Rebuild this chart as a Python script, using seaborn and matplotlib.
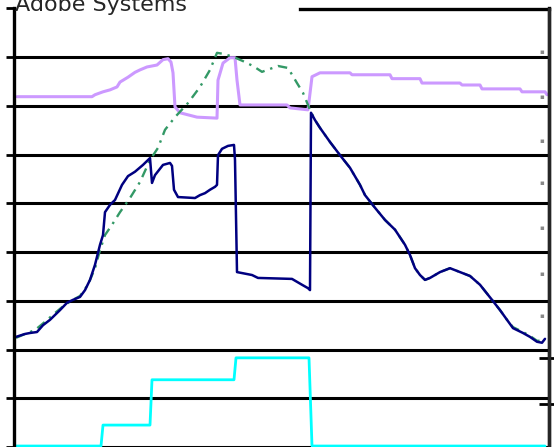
import matplotlib
matplotlib.use('Agg')
import matplotlib.pyplot as plt
import seaborn as sns
import pandas as pd

# values (x = trading day, y = price scale 0-90)
lav_x = [3, 78, 81, 89, 96, 103, 106, 114, 121, 126, 133, 143, 149, 154, 157, 159, 161, 166, 183, 203,
         204, 209, 216, 221, 223, 226, 273, 276, 294, 298, 306, 336, 338, 376, 378, 406, 408, 446, 448,
         466, 468, 506, 508, 531, 533]
lav_y = [71.9, 71.9, 72.3, 72.9, 73.3, 73.9, 74.9, 75.9, 76.9, 77.4, 78.0, 78.4, 79.5, 79.7, 79.0, 76.8,
         69.8, 68.6, 67.7, 67.5, 75.3, 78.8, 79.9, 79.9, 75.3, 70.2, 70.2, 69.6, 69.2, 76.0, 76.8, 76.8,
         76.4, 76.4, 75.6, 75.6, 74.7, 74.7, 74.3, 74.3, 73.5, 73.5, 72.9, 72.9, 72.3]

navy_x = [2, 11, 16, 23, 29, 36, 46, 53, 59, 66, 71, 76, 81, 86, 89, 91, 96, 101, 108, 114, 121, 129,
          136, 138, 141, 149, 156, 158, 160, 164, 181, 186, 191, 196, 201, 203, 204, 208, 214, 220, 221,
          223, 233, 238, 244, 278, 283, 288, 294, 296, 297, 301, 306, 316, 326, 336, 346, 351, 361, 371,
          381, 391, 396, 401, 406, 411, 416, 426, 436, 446, 456, 466, 478, 486, 493, 499, 509, 516, 523,
          528, 531]
navy_y = [22.6, 23.2, 23.4, 23.6, 25.0, 26.1, 28.1, 29.6, 30.2, 30.8, 32.2, 34.3, 37.4, 41.5, 43.5, 48.2,
          49.7, 50.7, 53.8, 55.6, 56.5, 57.9, 59.3, 54.2, 55.8, 57.9, 58.3, 57.7, 52.8, 51.3, 51.1, 51.7,
          52.1, 52.8, 53.4, 53.8, 59.9, 61.2, 61.8, 62.0, 58.9, 35.9, 35.5, 35.3, 34.7, 34.5, 33.9, 33.3,
          32.6, 32.2, 68.6, 67.1, 65.5, 62.6, 59.9, 57.3, 53.8, 51.7, 49.1, 46.6, 44.6, 41.5, 39.4, 36.7,
          35.3, 34.3, 34.7, 35.9, 36.7, 35.9, 35.1, 33.3, 30.2, 28.1, 26.1, 24.4, 23.4, 22.6, 21.6, 21.4,
          22.2]

green_x = [2, 11, 21, 31, 41, 51, 59, 66, 74, 81, 86, 91, 98, 106, 116, 126, 136, 144, 151, 161, 174,
           186, 196, 203, 209, 219, 229, 239, 248, 256, 264, 274, 283, 289, 296, 301, 306, 316, 326, 336,
           346, 351, 361, 371, 381, 391, 396, 401, 406, 411, 416, 426, 436, 446, 456, 466, 478, 486, 493,
           499, 509, 516, 523, 531]
green_y = [22.4, 23.2, 24.0, 25.7, 27.5, 29.2, 30.2, 31.0, 33.3, 36.7, 40.4, 43.5, 45.6, 48.2, 51.1,
           54.4, 58.9, 61.4, 65.1, 67.7, 70.6, 73.9, 77.4, 80.9, 80.7, 80.1, 79.2, 78.2, 77.0, 77.6, 78.2,
           77.8, 74.7, 72.7, 69.2, 67.1, 65.5, 62.6, 59.9, 57.3, 53.8, 51.7, 49.1, 46.6, 44.6, 41.5, 39.4,
           36.7, 35.3, 34.3, 34.7, 35.9, 36.7, 35.9, 35.1, 33.3, 30.2, 28.1, 26.1, 24.6, 23.6, 22.8, 21.8,
           21.8]

cyan_x = [2, 87, 89, 136, 138, 220, 222, 295, 298, 531]
cyan_y = [0.2, 0.2, 4.5, 4.5, 13.8, 13.8, 18.3, 18.3, 0.2, 0.2]

right_ticks = [8.8, 18.3]
right_dots = [26.9, 35.7, 45.0, 54.2, 63.0, 71.9, 81.1]

sns.set_style('white')

fig = plt.figure(figsize=(5.54, 4.47), dpi=100)
ax = fig.add_axes([13.5 / 554, 0, (549 - 13.5) / 554, 438.5 / 447])

sns.lineplot(data=pd.DataFrame({'x': cyan_x, 'y': cyan_y}), x='x', y='y', ax=ax,
             color='#00FFFF', lw=2.0, estimator=None, sort=False)
sns.lineplot(data=pd.DataFrame({'x': lav_x, 'y': lav_y}), x='x', y='y', ax=ax,
             color='#CC99FF', lw=2.2, estimator=None, sort=False)
sns.lineplot(data=pd.DataFrame({'x': green_x, 'y': green_y}), x='x', y='y', ax=ax,
             color='#339966', lw=1.7, estimator=None, sort=False, linestyle=(0, (4, 2.5, 1, 2.5)))
sns.lineplot(data=pd.DataFrame({'x': navy_x, 'y': navy_y}), x='x', y='y', ax=ax,
             color='#000080', lw=1.8, estimator=None, sort=False)

ax.set_xlim(-0.5, 535)
ax.set_ylim(0, 90)
ax.set_xticks([])
ax.set_yticks(range(0, 90, 10))
ax.set_yticks([90], minor=True)
ax.set_yticklabels([])
ax.set_xlabel('')
ax.set_ylabel('')
ax.set_axisbelow(True)
ax.grid(axis='y', which='major', color='black', lw=2.2)
ax.tick_params(axis='y', which='both', direction='out', length=6, width=2, color='black', left=True)

for side in ['left', 'right', 'top']:
    ax.spines[side].set_color('black')
    ax.spines[side].set_linewidth(2.4)
ax.spines['bottom'].set_visible(False)
ax.spines['top'].set_bounds(286, 535)

ax2 = ax.twinx()
ax2.set_ylim(0, 90)
ax2.set_yticks(right_ticks)
ax2.set_yticklabels([])
ax2.tick_params(axis='y', which='major', direction='inout', length=14, width=2, color='black')
ax2.set_yticks(right_dots, minor=True)
ax2.set_yticklabels(['\u25aa'] * len(right_dots), minor=True)
ax2.tick_params(axis='y', which='minor', length=0, pad=-7, labelsize=5, labelcolor='#888888')
for side in ['left', 'top', 'bottom']:
    ax2.spines[side].set_visible(False)
ax2.spines['right'].set_linewidth(2.4)

# title sits partly above the top edge, as in the source
fig.text(15 / 554, 1 - 11 / 447, 'Adobe Systems', fontsize=16, ha='left', va='baseline')

fig.savefig('out.png', dpi=100)
